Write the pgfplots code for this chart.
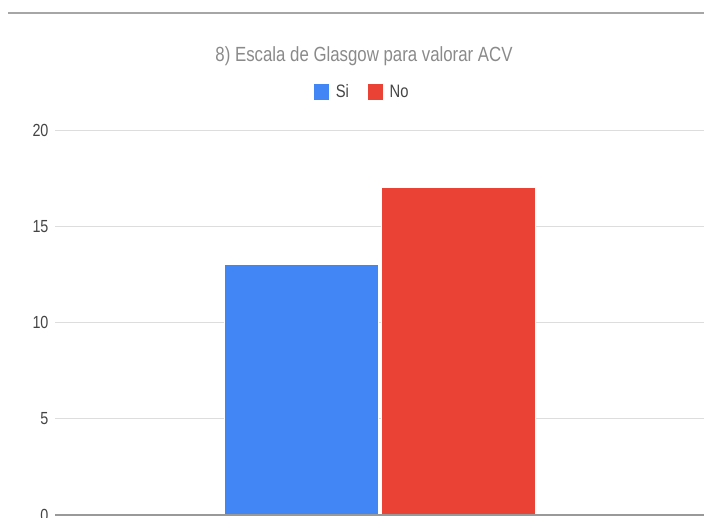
\documentclass[border=0pt]{standalone}
\usepackage{fontspec}
\setmainfont{Liberation Sans}[FakeStretch=0.82]
\usepackage{pgfplots}
\pgfplotsset{compat=1.18}
\definecolor{gblue}{HTML}{4285F4}
\definecolor{gred}{HTML}{EA4335}
\definecolor{gridgray}{HTML}{DDDDDD}
\definecolor{axisgray}{HTML}{999999}
\definecolor{titlegray}{HTML}{8A8A8A}
\definecolor{labelgray}{HTML}{444444}
\begin{document}
\begin{tikzpicture}
\begin{axis}[
  scale only axis, width=650pt, height=385pt,
  at={(0,0)}, anchor=south west,
  ymin=0, ymax=20, xmin=-1, xmax=1,
  ytick={0,5,10,15,20}, xtick=\empty,
  ymajorgrids, grid style={draw=gridgray, line width=1pt},
  axis line style={draw=none}, major tick length=0pt,
  /pgf/number format/assume math mode=true,
  yticklabel style={font=\fontsize{17.5}{19}\selectfont, color=labelgray, xshift=-3pt},
  ybar=3pt, bar width=154pt,
  clip=false,
  legend columns=2,
  legend style={at={(0.472,1.0987)}, anchor=center, draw=none, fill=none,
    font=\fontsize{18}{20}\selectfont, text=labelgray,
    /tikz/every odd column/.append style={column sep=4pt},
    /tikz/every even column/.append style={column sep=16pt}},
  legend image code/.code={\fill[#1] (0pt,-8.5pt) rectangle (16pt,8.5pt);},
]
\addplot[fill=gblue, draw=white, line width=0.8pt] coordinates {(0,13)};
\addlegendentry{Si}
\addplot[fill=gred, draw=white, line width=0.8pt] coordinates {(0,17)};
\addlegendentry{No}
\draw[axisgray, line width=1.6pt] (rel axis cs:0,0) -- (rel axis cs:1,0);
\end{axis}
\node[font=\fontsize{20.5}{22}\selectfont, text=titlegray] at (309pt,459pt) {8) Escala de Glasgow para valorar ACV};
\draw[draw=black!35, line width=1.5pt] (-47pt,502pt) -- (649pt,502pt);
\pgfresetboundingbox
\path[use as bounding box] (-55pt,-2pt) rectangle (649pt,515pt);
\end{tikzpicture}
\end{document}
